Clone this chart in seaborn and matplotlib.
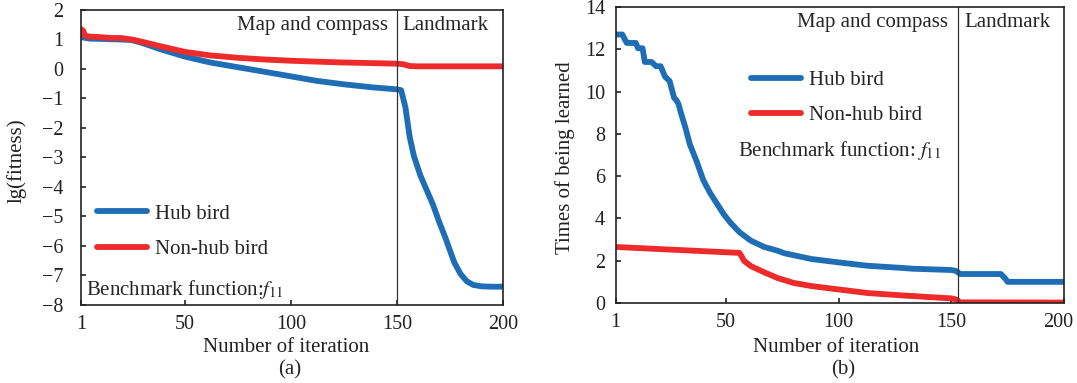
import numpy as np
import pandas as pd
import seaborn as sns
import matplotlib
matplotlib.use("Agg")
import matplotlib.pyplot as plt
import matplotlib.transforms as mtransforms

# ---- panel (a): lg(fitness) vs iteration ----
a_hub_iter = [1, 5, 10, 20, 25, 30, 38, 50, 62, 75, 88, 100, 112, 125, 138, 150, 152,
              154, 156, 158, 161, 164, 167, 170, 173, 177, 180, 183, 186, 190, 195, 200]
a_hub_val = [1.08, 1.03, 1.02, 1.0, 0.98, 0.88, 0.68, 0.42, 0.22, 0.06, -0.1, -0.25, -0.4,
             -0.52, -0.62, -0.69, -0.72, -1.3, -2.3, -2.95, -3.6, -4.1, -4.6, -5.2, -5.75,
             -6.55, -6.95, -7.2, -7.32, -7.37, -7.38, -7.38]
a_non_iter = [1, 2, 3, 5, 10, 15, 20, 25, 30, 38, 50, 62, 75, 88, 100, 112, 125, 138, 150,
              153, 156, 160, 180, 200]
a_non_val = [1.35, 1.3, 1.12, 1.1, 1.08, 1.05, 1.05, 1.0, 0.92, 0.78, 0.58, 0.46, 0.38, 0.32,
             0.28, 0.25, 0.22, 0.2, 0.18, 0.16, 0.1, 0.09, 0.09, 0.09]

# ---- panel (b): times of being learned vs iteration ----
b_hub_iter = [1, 4, 6, 10, 11, 13, 14, 17, 19, 21, 23, 25, 27, 28, 29, 30, 32, 34, 37, 40,
              43, 46, 49, 52, 56, 61, 67, 73, 76, 88, 100, 113, 128, 133, 150, 152, 154,
              172, 174, 175, 200]
b_hub_val = [12.7, 12.7, 12.3, 12.3, 12.05, 12.05, 11.4, 11.4, 11.2, 11.2, 10.7, 10.5, 9.7,
             9.6, 9.4, 9.0, 8.3, 7.5, 6.7, 5.8, 5.2, 4.7, 4.2, 3.8, 3.35, 2.95, 2.65, 2.47,
             2.35, 2.08, 1.92, 1.76, 1.66, 1.62, 1.56, 1.52, 1.37, 1.37, 1.15, 1.0, 1.0]
b_non_iter = [1, 56, 57, 58, 61, 67, 73, 80, 88, 100, 113, 128, 133, 140, 150, 152, 154, 200]
b_non_val = [2.65, 2.37, 2.2, 2.0, 1.75, 1.45, 1.18, 0.95, 0.8, 0.64, 0.47, 0.36, 0.33, 0.28,
             0.22, 0.17, 0.03, 0.02]

a_yticks = list(range(-8, 3))
b_yticks = list(range(0, 15, 2))
x_ticks = [1, 50, 100, 150, 200]

hub_color = "#1f6eb5"
non_color = "#ee2a2a"

sns.set_theme(style="ticks")
plt.rcParams['font.family'] = ['Liberation Serif', 'DejaVu Serif']
plt.rcParams['mathtext.fontset'] = 'stix'
plt.rcParams['font.size'] = 15

fig = plt.figure(figsize=(10.77, 3.83), dpi=100)
ax_a = fig.add_axes([0.0752, 0.2037, 0.3918, 0.7702])
ax_b = fig.add_axes([0.5715, 0.2089, 0.4164, 0.7728])

line_kw = dict(linewidth=4.2, solid_capstyle="round")

sns.lineplot(x=a_hub_iter, y=a_hub_val, ax=ax_a, color=hub_color, label="Hub bird", **line_kw)
sns.lineplot(x=a_non_iter, y=a_non_val, ax=ax_a, color=non_color, label="Non-hub bird", **line_kw)
sns.lineplot(x=b_hub_iter, y=b_hub_val, ax=ax_b, color=hub_color, label="Hub bird", **line_kw)
sns.lineplot(x=b_non_iter, y=b_non_val, ax=ax_b, color=non_color, label="Non-hub bird", **line_kw)

for ax in (ax_a, ax_b):
    ax.set_xlim(1, 200)
    ax.set_xticks(x_ticks)
    ax.set_xticklabels([str(t) for t in x_ticks])
    for sp in ax.spines.values():
        sp.set_visible(True)
        sp.set_color("#222222")
        sp.set_linewidth(1.2)
    ax.tick_params(direction="in", length=3.5, width=1.2, labelsize=14.5, colors="#222222",
                   top=False, right=False)
    ax.tick_params(axis="x", pad=7)
    ax.set_xlabel("Number of iteration", fontsize=15, color="#222222")

ax_a.set_ylim(-8, 2)
ax_a.set_yticks(a_yticks)
ax_a.tick_params(axis="y", pad=12.5)
ax_a.set_ylabel("lg(fitness)", fontsize=15, color="#222222")
ax_a.yaxis.set_label_coords(-0.128, 0.49)
ax_a.xaxis.set_label_coords(0.486, -0.112)

ax_b.set_ylim(0, 14)
ax_b.set_yticks(b_yticks)
ax_b.tick_params(axis="y", pad=7.5)
ax_b.set_ylabel("Times of being learned", fontsize=15, color="#222222")
ax_b.yaxis.set_label_coords(-0.090, 0.49)
ax_b.xaxis.set_label_coords(0.493, -0.118)

# keep the last tick label of (b) inside the figure
last = ax_b.get_xticklabels()[-1]
last.set_transform(last.get_transform() +
                   mtransforms.ScaledTranslation(-6 / 100, 0, fig.dpi_scale_trans))

# phase boundary lines
ax_a.axvline(150, color="#333333", linewidth=0.9)
ax_b.axvline(153, color="#333333", linewidth=0.9)

ta = ax_a.get_xaxis_transform()
ax_a.text(146, 0.949, "Map and compass", transform=ta, ha="right", va="center", fontsize=15)
ax_a.text(152.6, 0.949, "Landmark", transform=ta, ha="left", va="center", fontsize=15)
tb = ax_b.get_xaxis_transform()
ax_b.text(148.5, 0.949, "Map and compass", transform=tb, ha="right", va="center", fontsize=15)
ax_b.text(155.7, 0.949, "Landmark", transform=tb, ha="left", va="center", fontsize=15)

ax_a.text(0.012, 0.051, r"Benchmark function:$f_{11}$", transform=ax_a.transAxes,
          ha="left", va="center", fontsize=15)
ax_b.text(0.273, 0.514, r"Benchmark function: $f_{11}$", transform=ax_b.transAxes,
          ha="left", va="center", fontsize=15)

leg_kw = dict(frameon=False, fontsize=15, handlelength=2.4, handletextpad=0.4,
              labelspacing=0.75, borderpad=0, borderaxespad=0, loc="center left")
ax_a.legend(bbox_to_anchor=(0.038, 0.249), **leg_kw)
ax_b.legend(bbox_to_anchor=(0.302, 0.693), **leg_kw)

ax_a.text(0.495, -0.22, "(a)", transform=ax_a.transAxes, ha="center", va="center", fontsize=15)
ax_b.text(0.507, -0.226, "(b)", transform=ax_b.transAxes, ha="center", va="center", fontsize=15)

fig.savefig("out.png", dpi=100)
